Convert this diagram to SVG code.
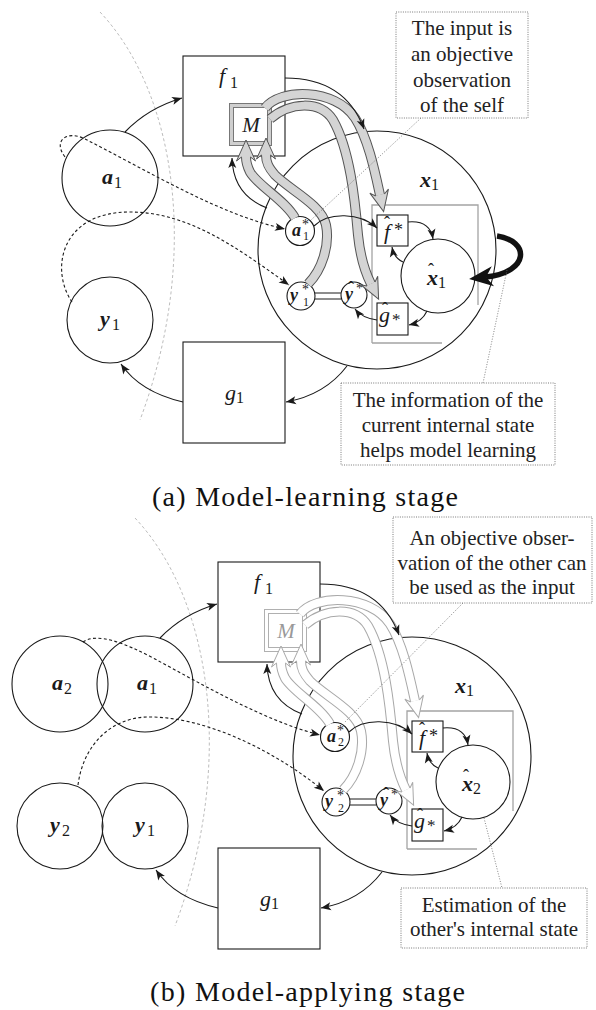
<svg xmlns="http://www.w3.org/2000/svg" width="596" height="1010" viewBox="0 0 596 1010" font-family="Liberation Serif, serif">
<style>
.ring{fill:none;stroke:#1a1a1a;stroke-width:1.1}
.nd{fill:#fff;stroke:#1a1a1a;stroke-width:1.1}
.arr{fill:none;stroke:#1a1a1a;stroke-width:1.1;marker-end:url(#ah)}
.dsh{fill:none;stroke:#1a1a1a;stroke-width:1.1;stroke-dasharray:3 2.4;marker-end:url(#ah)}
.thick{fill:none;stroke:#111;stroke-width:5.5;marker-end:url(#bigah)}
.guide{fill:none;stroke:#b4b4b4;stroke-width:0.9;stroke-dasharray:3 2.5}
.note{fill:#fff;stroke:#6a6a6a;stroke-width:0.9;stroke-dasharray:1 1.3}
.lead{fill:none;stroke:#666;stroke-width:0.8;stroke-dasharray:1 1.6}
.brk{fill:none;stroke:#a4a4a4;stroke-width:1.3}
.dbl{fill:none;stroke:#1a1a1a;stroke-width:1}
.lb{fill:#1a1a1a}
.bx{font-weight:700;font-style:italic}
.ix{font-style:italic}
.nt{font-size:21px;fill:#222;text-anchor:middle}
.cap{font-size:28px;fill:#111}
.boA{fill:none;stroke:#555;stroke-width:10}
.biA{fill:none;stroke:#d4d4d4;stroke-width:8;marker-end:url(#bha)}
.boB{fill:none;stroke:#a8a8a8;stroke-width:10}
.biB{fill:none;stroke:#fff;stroke-width:8;marker-end:url(#bhb)}
</style>
<defs>
  <marker id="ah" markerUnits="userSpaceOnUse" viewBox="-11 -5 12 10" markerWidth="12" markerHeight="10" refX="0" refY="0" orient="auto">
    <path d="M0,0 L-10,-4 L-7.5,0 L-10,4 Z" fill="#1a1a1a"/>
  </marker>
  <marker id="bigah" markerUnits="userSpaceOnUse" viewBox="-6 -11 28 22" markerWidth="28" markerHeight="22" refX="3" refY="0" orient="auto">
    <path d="M20,0 L-4,-10 L3,0 L-4,10 Z" fill="#111"/>
  </marker>
  <marker id="bha" markerUnits="userSpaceOnUse" viewBox="-7 -11 26 22" markerWidth="26" markerHeight="22" refX="0" refY="0" orient="auto">
    <path d="M0,4.5 L-4,9.5 L17,0 L-4,-9.5 L0,-4.5" fill="#d4d4d4" stroke="#555" stroke-width="1"/>
  </marker>
  <marker id="bhb" markerUnits="userSpaceOnUse" viewBox="-7 -11 26 22" markerWidth="26" markerHeight="22" refX="0" refY="0" orient="auto">
    <path d="M0,4.5 L-4,9.5 L17,0 L-4,-9.5 L0,-4.5" fill="#fff" stroke="#a8a8a8" stroke-width="1"/>
  </marker>
</defs>
<rect width="596" height="1010" fill="#fff"/>

<g id="panel-a">
  <path id="a-boundary" class="guide" d="M100,12 C178,95 200,260 140,420"/>

  <g id="a-a1"><circle class="ring" cx="110" cy="178" r="48"/>
    <text class="lb" style="font-family:Liberation Serif,serif" font-size="22"><tspan class="bx" x="102" y="184">a</tspan><tspan x="114" y="188" font-size="16">1</tspan></text></g>
  <g id="a-y1"><circle class="ring" cx="110" cy="320" r="43"/>
    <text class="lb" style="font-family:Liberation Serif,serif" font-size="22"><tspan class="bx" x="100" y="326">y</tspan><tspan x="112" y="330" font-size="16">1</tspan></text></g>

  <g id="a-f1"><rect class="nd" x="183" y="56" width="102" height="100"/>
    <text class="lb" style="font-family:Liberation Serif,serif" font-size="22"><tspan class="ix" x="219" y="83">f</tspan><tspan x="230" y="88" font-size="16">1</tspan></text></g>
  <g id="a-M">
    <rect x="231.5" y="105.5" width="38" height="38" fill="#fff" stroke="#cfcfcf" stroke-width="3"/>
    <rect x="229.5" y="103.5" width="42" height="42" fill="none" stroke="#777" stroke-width="1"/>
    <rect x="233.5" y="107.5" width="34" height="34" fill="none" stroke="#777" stroke-width="1"/>
    <text class="lb ix" style="font-family:Liberation Serif,serif" font-size="21" x="251" y="132" text-anchor="middle">M</text></g>
  <g id="a-g1"><rect class="nd" x="183" y="342" width="102" height="101"/>
    <text class="lb" style="font-family:Liberation Serif,serif" font-size="22"><tspan class="ix" x="225" y="400">g</tspan><tspan x="236" y="403" font-size="16">1</tspan></text></g>

  <g id="a-x1"><circle class="nd" cx="377" cy="250" r="119"/>
    <text class="lb" style="font-family:Liberation Serif,serif" font-size="22"><tspan class="bx" x="420" y="187">x</tspan><tspan x="431" y="190" font-size="16">1</tspan></text></g>
  <path id="a-model-frame" class="brk" d="M372,343 L372,205 L478,205 L478,305 M372,343 L442,343"/>

  <g id="a-astar"><circle class="nd" cx="300" cy="231" r="14.5"/>
    <text class="lb" style="font-family:Liberation Serif,serif" font-size="18"><tspan class="bx" x="292" y="236">a</tspan><tspan x="302" y="229" font-size="14">*</tspan><tspan x="303" y="240" font-size="12">1</tspan></text></g>
  <g id="a-ystar"><circle class="nd" cx="301" cy="296" r="14"/>
    <text class="lb" style="font-family:Liberation Serif,serif" font-size="18"><tspan class="bx" x="290" y="301">y</tspan><tspan x="302" y="294" font-size="14">*</tspan><tspan x="303" y="306" font-size="12">1</tspan></text></g>
  <g id="a-yhat"><circle class="nd" cx="354" cy="295" r="13"/>
    <text class="lb" style="font-family:Liberation Serif,serif" font-size="18"><tspan x="348" y="294">ˆ</tspan><tspan class="bx" x="345" y="300">y</tspan><tspan x="356" y="293" font-size="14">*</tspan></text></g>
  <path id="a-ylink" class="dbl" d="M315,293 L341,293 M315,299 L341,299"/>
  <g id="a-fhat"><rect class="nd" x="377" y="215" width="31" height="31"/>
    <text class="lb" style="font-family:Liberation Serif,serif" font-size="22"><tspan x="384" y="229" font-size="18">ˆ</tspan><tspan class="ix" x="384" y="239">f</tspan><tspan x="394" y="236" font-size="18">*</tspan></text></g>
  <g id="a-ghat"><rect class="nd" x="377" y="303" width="31" height="32"/>
    <text class="lb" style="font-family:Liberation Serif,serif" font-size="22"><tspan x="382" y="315" font-size="18">ˆ</tspan><tspan class="ix" x="379" y="322">g</tspan><tspan x="392" y="325" font-size="17">*</tspan></text></g>
  <g id="a-xhat"><circle class="nd" cx="438" cy="276" r="37"/>
    <text class="lb" style="font-family:Liberation Serif,serif" font-size="22"><tspan x="428" y="276" font-size="18">ˆ</tspan><tspan class="bx" x="427" y="285">x</tspan><tspan x="438" y="288" font-size="16">1</tspan></text></g>

  <g id="a-model-flows">
    <path class="boA" d="M295,218 C285,200 258,186 250,172 C247,166 246,162 246,157"/>
    <path class="biA" d="M295,218 C285,200 258,186 250,172 C247,166 246,162 246,157"/>
    <path class="boA" d="M308,284 C322,270 330,245 326,225 C322,205 290,190 275,175 C268,167 266,162 266,155"/>
    <path class="biA" d="M308,284 C322,270 330,245 326,225 C322,205 290,190 275,175 C268,167 266,162 266,155"/>
    <path class="boA" d="M265,108 C280,88 335,88 355,118 C368,138 375,172 380,195"/>
    <path class="biA" d="M265,108 C280,88 335,88 355,118 C368,138 375,172 380,195"/>
    <path class="boA" d="M270,119 C290,102 320,100 333,120 C350,150 355,200 358,235 C360,255 365,272 371,284"/>
    <path class="biA" d="M270,119 C290,102 320,100 333,120 C350,150 355,200 358,235 C360,255 365,272 371,284"/>
  </g>

  <g id="a-connectors">
    <path class="arr" d="M125,132 Q148,108 182,98"/>
    <path class="arr" d="M285,78 Q345,78 364,129"/>
    <path class="arr" d="M267,208 Q233,195 232,158"/>
    <path class="arr" d="M347,366 Q325,395 286,402"/>
    <path class="arr" d="M183,402 Q140,392 121,364"/>
    <path class="arr" d="M314,226 C328,212 360,212 377,228"/>
    <path class="arr" d="M408,222 Q430,220 433,239"/>
    <path class="arr" d="M403,262 Q394,258 392,247"/>
    <path class="arr" d="M427,311 Q422,322 409,325"/>
    <path class="arr" d="M377,320 Q362,318 355,309"/>
    <path class="dsh" d="M65,157 C52,140 68,130 85,139 C150,172 220,215 285,229"/>
    <path class="dsh" d="M72,302 C50,270 60,212 130,212 C190,212 240,250 289,285"/>
    <path class="thick" d="M497,236 C530,241 530,272 486,277"/>
  </g>

  <g id="a-note-input">
    <path class="lead" d="M421,118 L311,220"/>
    <rect class="note" x="396" y="12" width="132" height="106"/>
    <text class="nt" style="font-family:Liberation Serif,serif"><tspan x="462" y="35">The input is</tspan><tspan x="462" y="61">an objective</tspan><tspan x="462" y="87">observation</tspan><tspan x="462" y="112">of the self</tspan></text>
  </g>
  <g id="a-note-state">
    <path class="lead" d="M507,270 L483,383"/>
    <rect class="note" x="341" y="383" width="214" height="82"/>
    <text class="nt" style="font-family:Liberation Serif,serif"><tspan x="448" y="407">The information of the</tspan><tspan x="448" y="432">current internal state</tspan><tspan x="448" y="457">helps model learning</tspan></text>
  </g>
  <text id="a-caption" class="cap" style="font-family:Liberation Serif,serif" x="152" y="506" textLength="306">(a) Model-learning stage</text>
</g>

<g id="panel-b">
  <g transform="translate(35,506)">
    <path id="b-boundary" class="guide" d="M100,12 C178,95 200,260 140,420"/>

    <g id="b-a2"><circle class="ring" cx="25" cy="178" r="48"/>
      <text class="lb" style="font-family:Liberation Serif,serif" font-size="22"><tspan class="bx" x="17" y="184">a</tspan><tspan x="29" y="188" font-size="16">2</tspan></text></g>
    <g id="b-a1"><circle class="ring" cx="110" cy="178" r="48"/>
      <text class="lb" style="font-family:Liberation Serif,serif" font-size="22"><tspan class="bx" x="102" y="184">a</tspan><tspan x="114" y="188" font-size="16">1</tspan></text></g>
    <g id="b-y2"><circle class="ring" cx="25" cy="320" r="43"/>
      <text class="lb" style="font-family:Liberation Serif,serif" font-size="22"><tspan class="bx" x="15" y="326">y</tspan><tspan x="27" y="330" font-size="16">2</tspan></text></g>
    <g id="b-y1"><circle class="ring" cx="110" cy="320" r="43"/>
      <text class="lb" style="font-family:Liberation Serif,serif" font-size="22"><tspan class="bx" x="100" y="326">y</tspan><tspan x="112" y="330" font-size="16">1</tspan></text></g>

    <g id="b-f1"><rect class="nd" x="183" y="56" width="102" height="100"/>
      <text class="lb" style="font-family:Liberation Serif,serif" font-size="22"><tspan class="ix" x="219" y="83">f</tspan><tspan x="230" y="88" font-size="16">1</tspan></text></g>
    <g id="b-M">
      <rect x="229.5" y="103.5" width="42" height="42" fill="none" stroke="#b0b0b0" stroke-width="1"/>
      <rect x="233.5" y="107.5" width="34" height="34" fill="none" stroke="#b0b0b0" stroke-width="1"/>
      <text class="ix" style="font-family:Liberation Serif,serif" fill="#999" font-size="21" x="251" y="132" text-anchor="middle">M</text></g>
    <g id="b-g1"><rect class="nd" x="183" y="342" width="102" height="101"/>
      <text class="lb" style="font-family:Liberation Serif,serif" font-size="22"><tspan class="ix" x="225" y="400">g</tspan><tspan x="236" y="403" font-size="16">1</tspan></text></g>

    <g id="b-x1"><circle class="nd" cx="377" cy="250" r="119"/>
      <text class="lb" style="font-family:Liberation Serif,serif" font-size="22"><tspan class="bx" x="420" y="187">x</tspan><tspan x="431" y="190" font-size="16">1</tspan></text></g>
    <path id="b-model-frame" class="brk" d="M372,343 L372,205 L478,205 L478,305 M372,343 L442,343"/>

    <g id="b-astar"><circle class="nd" cx="300" cy="231" r="14.5"/>
      <text class="lb" style="font-family:Liberation Serif,serif" font-size="18"><tspan class="bx" x="292" y="236">a</tspan><tspan x="302" y="229" font-size="14">*</tspan><tspan x="303" y="240" font-size="12">2</tspan></text></g>
    <g id="b-ystar"><circle class="nd" cx="301" cy="296" r="14"/>
      <text class="lb" style="font-family:Liberation Serif,serif" font-size="18"><tspan class="bx" x="290" y="301">y</tspan><tspan x="302" y="294" font-size="14">*</tspan><tspan x="303" y="306" font-size="12">2</tspan></text></g>
    <g id="b-yhat"><circle class="nd" cx="354" cy="295" r="13"/>
      <text class="lb" style="font-family:Liberation Serif,serif" font-size="18"><tspan x="348" y="294">ˆ</tspan><tspan class="bx" x="345" y="300">y</tspan><tspan x="356" y="293" font-size="14">*</tspan></text></g>
    <path id="b-ylink" class="dbl" d="M315,293 L341,293 M315,299 L341,299"/>
    <g id="b-fhat"><rect class="nd" x="377" y="215" width="31" height="31"/>
      <text class="lb" style="font-family:Liberation Serif,serif" font-size="22"><tspan x="384" y="229" font-size="18">ˆ</tspan><tspan class="ix" x="384" y="239">f</tspan><tspan x="394" y="236" font-size="18">*</tspan></text></g>
    <g id="b-ghat"><rect class="nd" x="377" y="303" width="31" height="32"/>
      <text class="lb" style="font-family:Liberation Serif,serif" font-size="22"><tspan x="382" y="315" font-size="18">ˆ</tspan><tspan class="ix" x="379" y="322">g</tspan><tspan x="392" y="325" font-size="17">*</tspan></text></g>
    <g id="b-xhat"><circle class="nd" cx="438" cy="276" r="37"/>
      <text class="lb" style="font-family:Liberation Serif,serif" font-size="22"><tspan x="428" y="276" font-size="18">ˆ</tspan><tspan class="bx" x="427" y="285">x</tspan><tspan x="438" y="288" font-size="16">2</tspan></text></g>

    <g id="b-model-flows">
      <path class="boB" d="M295,218 C285,200 258,186 250,172 C247,166 246,162 246,157"/>
      <path class="biB" d="M295,218 C285,200 258,186 250,172 C247,166 246,162 246,157"/>
      <path class="boB" d="M308,284 C322,270 330,245 326,225 C322,205 290,190 275,175 C268,167 266,162 266,155"/>
      <path class="biB" d="M308,284 C322,270 330,245 326,225 C322,205 290,190 275,175 C268,167 266,162 266,155"/>
      <path class="boB" d="M265,108 C280,88 335,88 355,118 C368,138 375,172 380,195"/>
      <path class="biB" d="M265,108 C280,88 335,88 355,118 C368,138 375,172 380,195"/>
      <path class="boB" d="M270,119 C290,102 320,100 333,120 C350,150 355,200 358,235 C360,255 365,272 371,284"/>
      <path class="biB" d="M270,119 C290,102 320,100 333,120 C350,150 355,200 358,235 C360,255 365,272 371,284"/>
    </g>

    <g id="b-connectors">
      <path class="arr" d="M125,132 Q148,108 182,98"/>
      <path class="arr" d="M285,78 Q345,78 364,129"/>
      <path class="arr" d="M267,208 Q233,195 232,158"/>
      <path class="arr" d="M347,366 Q325,395 286,402"/>
      <path class="arr" d="M183,402 Q140,392 121,364"/>
      <path class="arr" d="M314,226 C328,212 360,212 377,228"/>
      <path class="arr" d="M408,222 Q430,220 433,239"/>
      <path class="arr" d="M403,262 Q394,258 392,247"/>
      <path class="arr" d="M427,311 Q422,322 409,325"/>
      <path class="arr" d="M377,320 Q362,318 355,309"/>
      <path class="dsh" d="M48,136 C62,126 90,137 120,153 C170,180 230,215 285,229"/>
      <path class="dsh" d="M43,279 C48,240 75,212 112,211 C170,210 240,245 289,285"/>
    </g>
  </g>

  <g id="b-note-input">
    <path class="lead" d="M463,603 L345,722"/>
    <rect class="note" x="393" y="517" width="199" height="86"/>
    <text class="nt" style="font-family:Liberation Serif,serif"><tspan x="492" y="545">An objective obser-</tspan><tspan x="492" y="570">vation of the other can</tspan><tspan x="492" y="594">be used as the input</tspan></text>
  </g>
  <g id="b-note-state">
    <path class="lead" d="M484,818 L502,888"/>
    <rect class="note" x="401" y="888" width="186" height="60"/>
    <text class="nt" style="font-family:Liberation Serif,serif"><tspan x="494" y="912">Estimation of the</tspan><tspan x="494" y="936">other&#39;s internal state</tspan></text>
  </g>
  <text id="b-caption" class="cap" style="font-family:Liberation Serif,serif" x="150" y="1001" textLength="315">(b) Model-applying stage</text>
</g>
</svg>
